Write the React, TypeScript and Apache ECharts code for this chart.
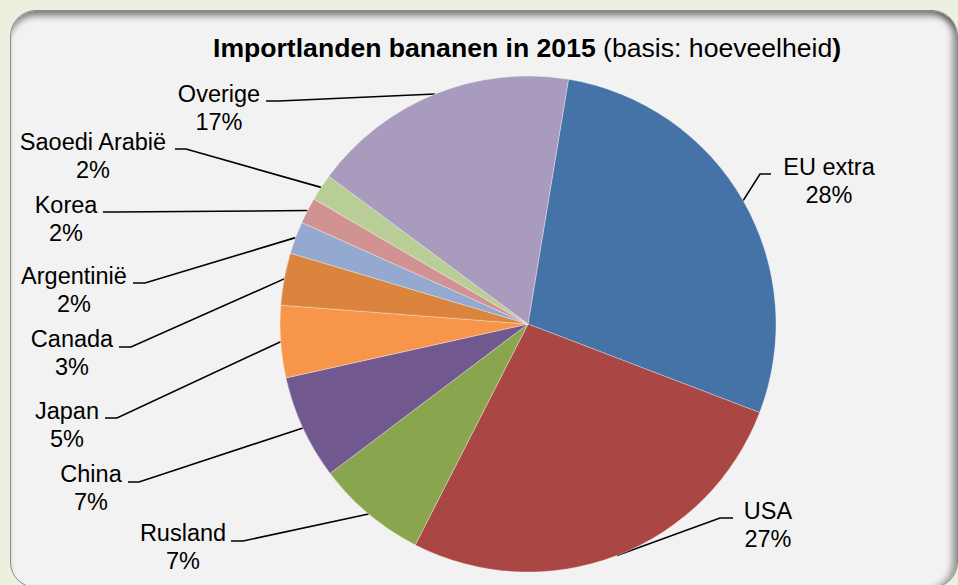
import React, { useEffect, useRef } from "react";
import * as echarts from "echarts";

// ---- data ----
const categories = [
  "EU extra",
  "USA",
  "Rusland",
  "China",
  "Japan",
  "Canada",
  "Argentinië",
  "Korea",
  "Saoedi Arabië",
  "Overige",
];
const shares = [28.2, 26.7, 7.2, 6.8, 4.7, 3.4, 2.1, 1.7, 1.75, 17.45];
const colors = [
  "#4572a7",
  "#aa4643",
  "#89a54e",
  "#71588f",
  "#f7964a",
  "#db843d",
  "#93a9cf",
  "#d19392",
  "#b9cd96",
  "#a99bbd",
];
const titleBold = "Importlanden bananen in 2015";
const titleNormal = " (basis: hoeveelheid";
const titleClose = ")";

// ---- label placement (layout only) ----
const labelPlacement = [
  { x: 829, y: 181, bend: [760, 174], end: [771, 174] },
  { x: 768, y: 525, bend: [720, 518], end: [733, 518] },
  { x: 183, y: 547, bend: [243, 541], end: [231, 541] },
  { x: 91, y: 488, bend: [139, 482], end: [128, 482] },
  { x: 67, y: 425, bend: [117, 418], end: [105, 418] },
  { x: 72, y: 353, bend: [131, 347], end: [119, 347] },
  { x: 74, y: 290, bend: [145, 283], end: [133, 283] },
  { x: 66, y: 219, bend: [115, 212], end: [103, 212] },
  { x: 93, y: 156, bend: [186, 149], end: [175, 149] },
  { x: 219, y: 108, bend: [279, 101], end: [266, 101] },
];

const FONT = "'Liberation Sans', Arial, sans-serif";

export default function App() {
  const ref = useRef<HTMLDivElement>(null);
  useEffect(() => {
    const chart = echarts.init(ref.current!, null, { renderer: "svg" });
    const option: any = {
      animation: false,
      title: {
        text: `{b|${titleBold}}{n|${titleNormal}}{b|${titleClose}}`,
        left: 208,
        top: 28,
        textStyle: {
          rich: {
            b: {
              fontFamily: FONT,
              fontWeight: "bold",
              fontSize: 26.6,
              color: "#000",
              lineHeight: 30,
            },
            n: {
              fontFamily: FONT,
              fontWeight: "normal",
              fontSize: 26.6,
              color: "#000",
              lineHeight: 30,
            },
          },
        },
      },
      series: [
        {
          type: "pie",
          center: [528, 324],
          radius: 248,
          startAngle: 80.6,
          clockwise: true,
          avoidLabelOverlap: false,
          data: categories.map((name, i) => ({
            name,
            value: shares[i],
            itemStyle: { color: colors[i] },
          })),
          itemStyle: {
            borderColor: "rgba(255,255,255,0.55)",
            borderWidth: 0.6,
          },
          emphasis: { disabled: true },
          label: {
            show: true,
            position: "outside",
            formatter: (p: any) => `${p.name}\n${Math.round(p.percent)}%`,
            fontFamily: FONT,
            fontSize: 23.5,
            lineHeight: 28,
            color: "#000",
            align: "center",
          },
          labelLine: {
            show: true,
            length: 10,
            length2: 10,
            smooth: false,
            lineStyle: { color: "#000", width: 1.6 },
          },
          labelLayout: (params: any) => {
            const lp = labelPlacement[params.dataIndex];
            const p0 = params.labelLinePoints
              ? params.labelLinePoints[0]
              : lp.bend;
            return {
              x: lp.x,
              y: lp.y,
              align: "center",
              verticalAlign: "middle",
              labelLinePoints: [p0, lp.bend, lp.end],
            };
          },
        },
      ],
    };
    chart.setOption(option);
    return () => chart.dispose();
  }, []);

  return (
    <div
      style={{
        position: "fixed",
        left: 0,
        top: 0,
        width: 958,
        height: 585,
        background: "#ebf1de",
        overflow: "hidden",
      }}
    >
      <div
        style={{
          position: "absolute",
          left: 10,
          top: 10,
          width: 946,
          height: 576,
          background: "#f2f2f2",
          borderRadius: 26,
          border: "1.5px solid #8a8a8a",
          boxShadow:
            "inset 0 8px 6px -3px rgba(0,0,0,0.45), inset -8px 0 6px -3px rgba(0,0,0,0.35)",
        }}
      />
      <div
        ref={ref}
        style={{ position: "absolute", left: 0, top: 0, width: 958, height: 585 }}
      />
    </div>
  );
}
